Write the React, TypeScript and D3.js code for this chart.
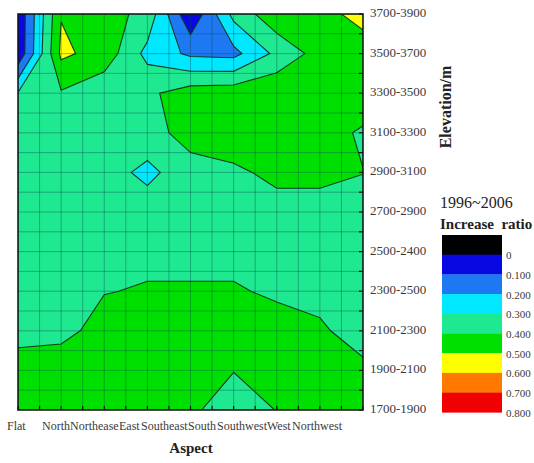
import React from 'react';
import * as d3 from 'd3';

// aspects along x, elevation bands along y (bottom to top)
const aspects = ['Flat', 'North', 'Northease', 'East', 'Southeast', 'South', 'Southwest', 'West', 'Northwest'];
const elevations = [
  '1700-1900', '1900-2100', '2100-2300', '2300-2500', '2500-2400', '2700-2900',
  '2900-3100', '3100-3300', '3300-3500', '3500-3700', '3700-3900'
];

// increase ratio per aspect, from 1700-1900 up to 3700-3900
const flat = [0.45, 0.44, 0.37, 0.36, 0.36, 0.36, 0.35, 0.34, 0.305, 0.02, 0.02];
const north = [0.46, 0.48, 0.36, 0.37, 0.36, 0.36, 0.36, 0.36, 0.39, 0.52, 0.495];
const northeast = [0.45, 0.46, 0.45, 0.395, 0.37, 0.36, 0.35, 0.35, 0.33, 0.46, 0.44];
const east = [0.43, 0.44, 0.45, 0.41, 0.37, 0.36, 0.27, 0.37, 0.38, 0.27, 0.37];
const southeast = [0.407, 0.43, 0.45, 0.41, 0.37, 0.36, 0.37, 0.43, 0.45, 0.18, 0.01];
const south = [0.38, 0.401, 0.44, 0.41, 0.37, 0.36, 0.385, 0.45, 0.46, 0.17, 0.33];
const southwest = [0.401, 0.43, 0.44, 0.385, 0.36, 0.37, 0.42, 0.46, 0.48, 0.325, 0.47];
const west = [0.43, 0.43, 0.41, 0.38, 0.36, 0.37, 0.42, 0.447, 0.46, 0.44, 0.46];
const northwest = [0.42, 0.415, 0.37, 0.36, 0.36, 0.36, 0.402, 0.385, 0.47, 0.44, 0.54];

const levels = [0, 0.1, 0.2, 0.3, 0.4, 0.5, 0.6, 0.7];
const legendTicks = ['0', '0.100', '0.200', '0.300', '0.400', '0.500', '0.600', '0.700', '0.800'];
const bandColors = ['#000000', '#0808e2', '#1e78f2', '#00e8ff', '#1ee890', '#00e000', '#ffff00', '#ff7800', '#f00000'];

// where the aspect names start (the original labels run into each other)
const labelStarts = [7, 42, 70, 119, 141, 188, 217, 267, 292];

const W = 534, H = 463;
const left = 18, right = 363, top = 14, bottom = 410;

export default function App() {
  const columns = [flat, north, northeast, east, southeast, south, southwest, west, northwest];
  const nx = columns.length, ny = elevations.length;

  const x = d3.scaleLinear().domain([0, nx - 1]).range([left, right]);
  const y = d3.scaleLinear().domain([0, ny - 1]).range([bottom, top]);

  // row-major grid, first row = highest band
  const grid: number[] = [];
  for (let r = 0; r < ny; r++) {
    for (let i = 0; i < nx; i++) grid.push(columns[i][ny - 1 - r]);
  }

  const contours = d3.contours().size([nx, ny]).thresholds(levels)(grid);
  const proj = d3.geoTransform({
    point(px: number, py: number) {
      this.stream.point(x(px - 0.5), y(ny - 0.5 - py));
    }
  });
  const path = d3.geoPath(proj);

  const xGrid = d3.range(0, nx - 1 + 0.01, 0.5);
  const yGrid = d3.range(0, ny - 1 + 0.01, 0.5);

  const legX = 442, legTop = 235, legW = 60, legH = 19.7;
  const serif = '"Liberation Serif", "Times New Roman", serif';

  return (
    <svg width={W} height={H} style={{ position: 'absolute', left: 0, top: 0, background: '#fff' }} fontFamily={serif}>
      <defs>
        <clipPath id="plot-clip">
          <rect x={left} y={top} width={right - left} height={bottom - top} />
        </clipPath>
      </defs>
      <g clipPath="url(#plot-clip)">
        {contours.map((c, k) => (
          <path key={'f' + k} d={path(c as any) || ''} fill={bandColors[k + 1]} stroke="none" />
        ))}
        <g stroke="#07474f" strokeOpacity={0.38} strokeWidth={1}>
          {xGrid.map(v => <line key={'gx' + v} x1={x(v)} x2={x(v)} y1={top} y2={bottom} />)}
          {yGrid.map(v => <line key={'gy' + v} x1={left} x2={right} y1={y(v)} y2={y(v)} />)}
        </g>
        {contours.map((c, k) => (
          <path key={'l' + k} d={path(c as any) || ''} fill="none" stroke="#143a22" strokeWidth={1.1} />
        ))}
      </g>
      <rect x={left} y={top} width={right - left} height={bottom - top} fill="none" stroke="#111" strokeWidth={1.5} />
      <g stroke="#111" strokeWidth={1.2}>
        {xGrid.map(v => <line key={'tx' + v} x1={x(v)} x2={x(v)} y1={bottom} y2={bottom - 4} />)}
        {yGrid.map(v => <line key={'ty' + v} x1={right} x2={right - 4} y1={y(v)} y2={y(v)} />)}
      </g>

      <g fontSize={12} fill="#3a3a3a">
        {aspects.map((a, i) => (
          <text key={a} x={labelStarts[i]} y={427} dominantBaseline="middle">{a}</text>
        ))}
      </g>
      <text x={191} y={450} textAnchor="middle" dominantBaseline="middle" fontSize={15} fontWeight="bold" fill="#222">Aspect</text>

      <g fontSize={13} fill="#3a3a3a">
        {elevations.map((e, j) => (
          <text key={e} x={370} y={y(j)} dominantBaseline="middle">{e}</text>
        ))}
      </g>
      <text transform="translate(447,107) rotate(-90)" textAnchor="middle" dominantBaseline="middle" fontSize={16} fontWeight="bold" fill="#222">Elevation/m</text>

      <text x={440} y={204} dominantBaseline="middle" fontSize={16} fill="#222">1996~2006</text>
      <text x={440} y={226} dominantBaseline="middle" fontSize={15} fontWeight="bold" fill="#222" style={{ whiteSpace: 'pre' }}>Increase  ratio</text>
      {bandColors.map((c, k) => (
        <rect key={'lg' + k} x={legX} y={legTop + k * legH} width={legW} height={legH + 0.3} fill={c} />
      ))}
      <g fontSize={11} fill="#3a3a3a">
        {legendTicks.map((t, k) => (
          <text key={t} x={506} y={legTop + (k + 1) * legH + 2} dominantBaseline="middle">{t}</text>
        ))}
      </g>
    </svg>
  );
}
